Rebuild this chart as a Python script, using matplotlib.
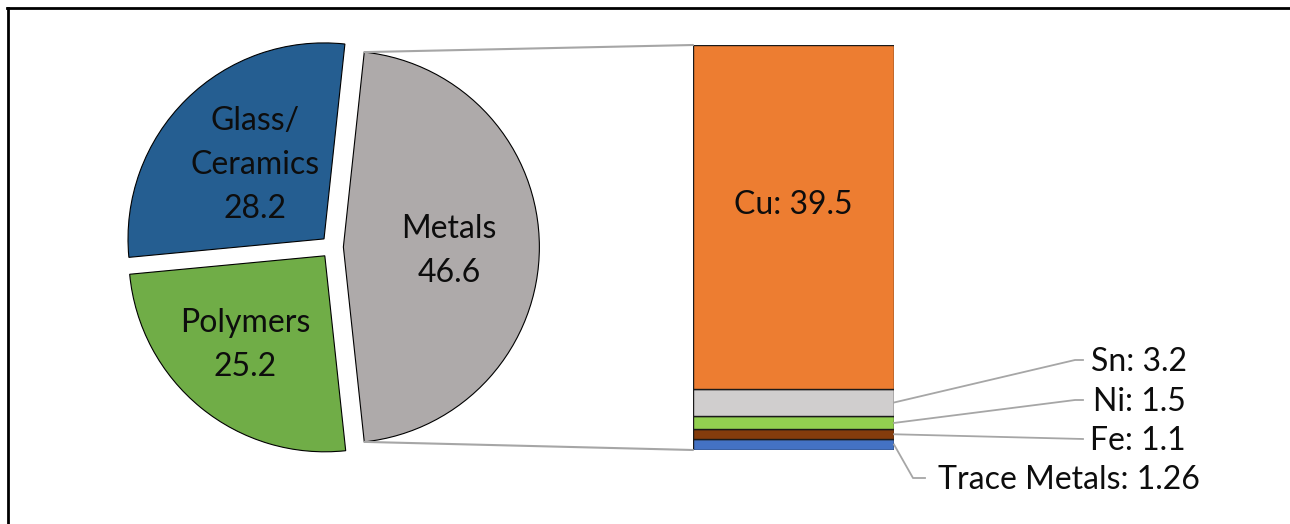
import matplotlib
matplotlib.use("Agg")
import matplotlib.pyplot as plt
from matplotlib.patches import ConnectionPatch
from matplotlib.lines import Line2D
import numpy as np

# Material composition (wt %)
pie_labels = ["Glass/\nCeramics", "Polymers", "Metals"]
pie_values = [28.2, 25.2, 46.6]
pie_colors = ["#255E91", "#70AD47", "#AEAAAA"]

# Breakdown of the metal fraction, stacked bottom to top
metal_names = ["Trace Metals", "Fe", "Ni", "Sn", "Cu"]
metal_values = [1.26, 1.1, 1.5, 3.2, 39.5]
metal_colors = ["#4472C4", "#843C0C", "#92D050", "#D0CECE", "#ED7D31"]

plt.rcParams['font.family'] = ['Lato', 'DejaVu Sans']
FS = 23
TXT = "#0d0d0d"
LEADER = "#A6A6A6"

W, H = 1290, 524
fig = plt.figure(figsize=(W / 100, H / 100), dpi=100)
fig.patch.set_facecolor("white")


def px(x, y):
    """Pixel position (top-left origin) to pie-axes data coordinates."""
    return (x, H - y)


# ---- pie ----
ax = fig.add_axes([0, 0, 1, 1])
R = 196
half = pie_values[2] / sum(pie_values) * 180.0
wedges, _ = ax.pie(pie_values, colors=pie_colors, startangle=half,
                   radius=R, center=px(332, 247), explode=[0.058 * R] * 3,
                   wedgeprops=dict(edgecolor="black", linewidth=0.8))
ax.set_xlim(0, W)
ax.set_ylim(0, H)
ax.set_aspect("equal")
ax.axis("off")

pie_text_pos = [(255, 165), (245, 345), (449, 251)]
for lab, val, (tx, ty) in zip(pie_labels, pie_values, pie_text_pos):
    ax.text(*px(tx, ty), f"{lab}\n{val}", ha="center", va="center",
            fontsize=FS, color=TXT, linespacing=1.6)

# ---- stacked bar of the metals ----
bax = fig.add_axes([693 / W, (H - 450) / H, 201 / W, 405 / H])
bottoms = np.concatenate([[0], np.cumsum(metal_values)[:-1]])
total = float(np.sum(metal_values))
bax.bar(0, metal_values, bottom=bottoms, width=1, color=metal_colors,
        edgecolor="#1a1a1a", linewidth=1.0)
bax.set_xlim(-0.5, 0.5)
bax.set_ylim(0, total)
bax.axis("off")

# large segment: label inside
bax.text(0, bottoms[4] + metal_values[4] / 2 + 1.4,
         f"{metal_names[4]}: {metal_values[4]}", ha="center", va="center",
         fontsize=FS, color=TXT)

# small segments: labels outside with leader lines
lab_left = [938, 1090, 1093, 1091]
lab_y = [480, 441, 402, 362]
elbow_x = [913, 1083, 1075, 1075]
end_x = [925, 1083, 1083, 1083]
for i in range(4):
    mid = bottoms[i] + metal_values[i] / 2
    sx, sy = bax.transData.transform((0.5, mid))
    ly = lab_y[i] - 2
    fig.add_artist(Line2D([sx, elbow_x[i], end_x[i]],
                          [sy, H - ly, H - ly],
                          transform=None, color=LEADER, lw=1.3))
    fig.text(lab_left[i] / W, 1 - lab_y[i] / H,
             f"{metal_names[i]}: {metal_values[i]}", ha="left", va="center",
             fontsize=FS, color=TXT)

# ---- connectors from the metals wedge to the bar ----
mw = wedges[2]
mcx, mcy = mw.center
r = mw.r
for ang, ybar in [(mw.theta2, total), (mw.theta1, 0)]:
    pt = (mcx + r * np.cos(np.radians(ang)), mcy + r * np.sin(np.radians(ang)))
    con = ConnectionPatch(xyA=(-0.5, ybar), coordsA=bax.transData,
                          xyB=pt, coordsB=ax.transData,
                          color=LEADER, linewidth=1.5)
    fig.add_artist(con)

# frame on top and left
fig.add_artist(Line2D([7 / W, 1], [1 - 7.5 / H, 1 - 7.5 / H],
                      transform=fig.transFigure, color="black", lw=2))
fig.add_artist(Line2D([7.5 / W, 7.5 / W], [0, 1 - 7.5 / H],
                      transform=fig.transFigure, color="black", lw=2))

fig.savefig("out.png", dpi=100, facecolor="white")
